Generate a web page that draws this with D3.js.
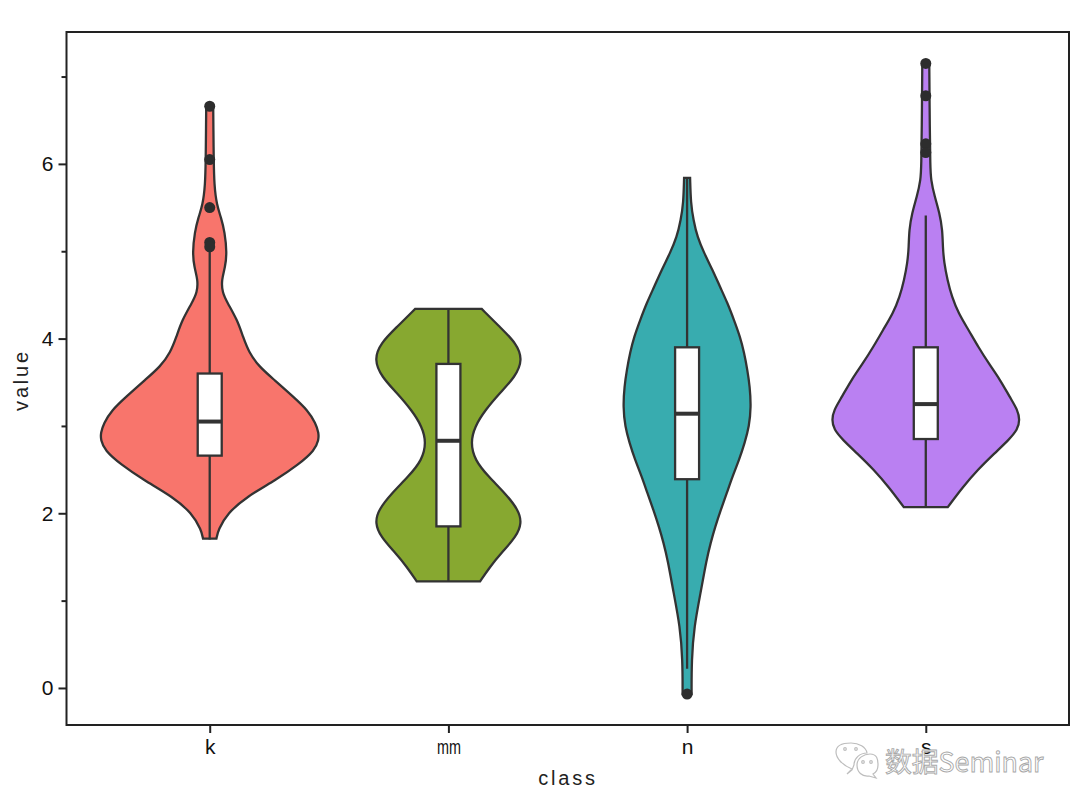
<!DOCTYPE html>
<html>
<head>
<meta http-equiv="Content-Type" content="text/html; charset=utf-8" />
<title></title>
<script type="text/javascript" src="https://cdn.jsdelivr.net/npm/d3@7"></script>
<style type="text/css">
html, body { margin: 0; padding: 0; background: #fff; }
.axis path { display: none; }
.axis line { stroke: #222; stroke-width: 2px; }
.axis text { font-family: "Liberation Sans", sans-serif; font-size: 21px; fill: #111; }
.title { font-family: "Liberation Sans", sans-serif; font-size: 20px; fill: #222; letter-spacing: 2.8px; }
</style>
</head>
<body>
<script type="text/javascript">
var classes = ["k", "mm", "n", "s"];
var colors = ["#F8756C", "#87A830", "#38ACAF", "#BA80F2"];

// outline of each violin: value, density
var kValue = [6.66,6.39,6.05,5.76,5.53,5.38,5.22,4.98,4.82,4.67,4.53,4.41,4.21,4.02,3.84,3.68,3.53,3.33,3.18,3.03,2.92,2.84,2.72,2.56,2.38,2.19,2.00,1.81,1.71];
var kDensity = [.035,.037,.04,.045,.07,.115,.15,.172,.155,.118,.125,.177,.277,.333,.393,.493,.643,.84,.98,1.06,1.09,1.09,1.05,.89,.66,.37,.177,.085,.067];
var mmValue = [4.34,4.13,3.95,3.76,3.56,3.38,3.18,2.99,2.81,2.61,2.42,2.23,2.04,1.89,1.73,1.55,1.39,1.22];
var mmDensity = [.333,.517,.677,.745,.667,.517,.367,.262,.222,.262,.40,.567,.70,.735,.677,.533,.417,.317];
var nValue = [5.84,5.55,5.36,5.16,4.98,4.79,4.59,4.41,4.21,4.02,3.84,3.64,3.45,3.22,2.99,2.81,2.61,2.42,2.23,2.04,1.84,1.66,1.47,1.09,.70,.32,-.07];
var nDensity = [.03,.037,.063,.103,.17,.253,.33,.403,.47,.53,.57,.603,.627,.64,.62,.577,.52,.453,.397,.337,.28,.235,.195,.135,.07,.045,.045];
var sValue = [7.15,6.39,5.99,5.82,5.62,5.44,5.24,5.05,4.87,4.67,4.48,4.29,4.10,3.90,3.72,3.53,3.33,3.18,3.07,2.96,2.84,2.69,2.50,2.30,2.07];
var sDensity = [.035,.04,.045,.05,.09,.137,.167,.17,.183,.217,.26,.327,.427,.527,.627,.743,.84,.92,.94,.92,.83,.69,.52,.37,.22];

// box stats per class
var q1 = [2.66, 1.85, 2.39, 2.85];
var median = [3.05, 2.83, 3.14, 3.25];
var q3 = [3.60, 3.71, 3.90, 3.90];
var whiskerLow = [1.70, 1.22, 0.22, 2.07];
var whiskerHigh = [5.05, 4.34, 5.84, 5.41];
var outliers = [[6.66, 6.05, 5.50, 5.10, 5.05], [], [-0.07], [7.15, 6.78, 6.23, 6.13]];

var yTicks = [0, 2, 4, 6];
var yMinorTicks = [1, 3, 5, 7];

var violins = [
  { value: kValue, density: kDensity },
  { value: mmValue, density: mmDensity },
  { value: nValue, density: nDensity },
  { value: sValue, density: sDensity }
];

var left = 66.5, right = 1069, top_ = 32, bottom = 725;
var boxWidth = 24;

var svg = d3.select("body").append("svg")
  .attr("width", 1080)
  .attr("height", 810)
  .style("display", "block");

var x = d3.scalePoint().domain(classes).range([left, right]).padding(0.6);
var y = d3.scaleLinear().domain([-0.424, 7.51]).range([bottom, top_]);
var w = d3.scaleLinear().domain([0, 1]).range([0, 100]);

classes.forEach(function (c, i) {
  var cx = x(c);
  var rows = violins[i].value.map(function (v, j) {
    return { v: v, d: violins[i].density[j] };
  });

  var area = d3.area()
    .y(function (d) { return y(d.v); })
    .x0(function (d) { return cx - w(d.d); })
    .x1(function (d) { return cx + w(d.d); })
    .curve(d3.curveBasis);

  svg.append("path")
    .attr("d", area(rows))
    .attr("fill", colors[i])
    .attr("stroke", "#333")
    .attr("stroke-width", 2.3);

  // whisker
  svg.append("line")
    .attr("x1", cx).attr("x2", cx)
    .attr("y1", y(whiskerLow[i])).attr("y2", y(whiskerHigh[i]))
    .attr("stroke", "#333")
    .attr("stroke-width", 2.3);

  // box
  svg.append("rect")
    .attr("x", cx - boxWidth / 2)
    .attr("y", y(q3[i]))
    .attr("width", boxWidth)
    .attr("height", y(q1[i]) - y(q3[i]))
    .attr("fill", "#fff")
    .attr("stroke", "#333")
    .attr("stroke-width", 2.3);

  svg.append("line")
    .attr("x1", cx - boxWidth / 2).attr("x2", cx + boxWidth / 2)
    .attr("y1", y(median[i])).attr("y2", y(median[i]))
    .attr("stroke", "#333")
    .attr("stroke-width", 4);

  svg.selectAll(".o" + i)
    .data(outliers[i])
    .enter()
    .append("circle")
    .attr("class", "o" + i)
    .attr("cx", cx)
    .attr("cy", function (d) { return y(d); })
    .attr("r", 5.5)
    .attr("fill", "#2d2d2d");
});

// frame
svg.append("rect")
  .attr("x", left).attr("y", top_)
  .attr("width", right - left).attr("height", bottom - top_)
  .attr("fill", "none")
  .attr("stroke", "#222")
  .attr("stroke-width", 2);

var xAxis = d3.axisBottom(x).tickSize(8).tickPadding(6);
var xG = svg.append("g")
  .attr("class", "axis")
  .attr("transform", "translate(0," + bottom + ")")
  .call(xAxis);

// the reference has half width latin glyphs, so squeeze the wide label
xG.selectAll("text")
  .filter(function (d) { return d === "mm"; })
  .attr("textLength", 24)
  .attr("lengthAdjust", "spacingAndGlyphs");

var yAxis = d3.axisLeft(y).tickValues(yTicks).tickFormat(d3.format("d")).tickSize(8).tickPadding(5);
svg.append("g")
  .attr("class", "axis")
  .attr("transform", "translate(" + left + ",0)")
  .call(yAxis);

var yMinor = d3.axisLeft(y).tickValues(yMinorTicks).tickFormat("").tickSize(5);
svg.append("g")
  .attr("class", "axis")
  .attr("transform", "translate(" + left + ",0)")
  .call(yMinor);

svg.append("text")
  .attr("class", "title")
  .attr("x", 568).attr("y", 785)
  .attr("text-anchor", "middle")
  .text("class");

svg.append("text")
  .attr("class", "title")
  .attr("transform", "translate(28,380) rotate(-90)")
  .attr("text-anchor", "middle")
  .text("value");

// watermark
var mark = svg.append("g").attr("fill", "#fff").attr("stroke", "#bdbdbd").attr("stroke-width", 1.2);
mark.append("path").attr("d", "M847 774 L852 769 C842 765 836 758 836 752 C836 745 844 743 851 743 C859 743 866 747 867 753 C860 753 854 758 854 765 L852 770 Z");
mark.append("path").attr("d", "M857 765 C857 758 864 754 870 754 C877 754 878 759 878 765 C878 770 875 773 873 774 L876 778 L869 776 C862 777 857 772 857 765 Z");
mark.selectAll("circle.eye")
  .data([[845, 749], [856, 749], [863, 762], [871, 762]])
  .enter().append("circle")
  .attr("class", "eye")
  .attr("cx", function (d) { return d[0]; })
  .attr("cy", function (d) { return d[1]; })
  .attr("r", 1.3);

svg.append("text")
  .attr("x", 885).attr("y", 772)
  .attr("font-family", "'Noto Sans CJK SC', sans-serif")
  .attr("font-size", 26.8)
  .attr("fill", "#fff")
  .attr("stroke", "#a8a8a8")
  .attr("stroke-width", 0.9)
  .text("数据Seminar");
</script>
</body>
</html>
